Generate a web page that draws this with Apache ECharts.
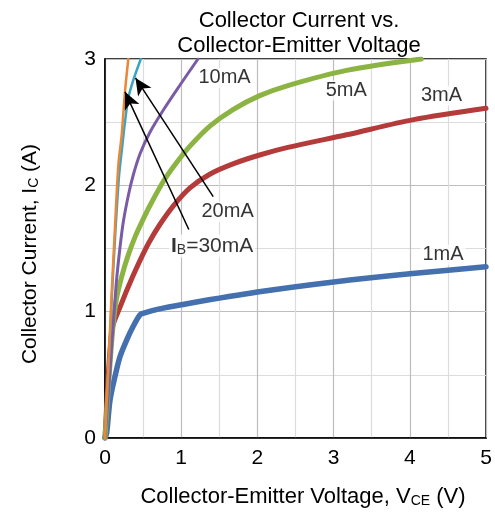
<!DOCTYPE html>
<html>
<head>
<meta charset="utf-8">
<script src="https://cdn.jsdelivr.net/npm/echarts@6/dist/echarts.min.js"></script>
<style>
  html, body { margin: 0; padding: 0; background: #fff; }
  #chart { width: 495px; height: 516px; }
</style>
</head>
<body>
<div id="chart"></div>
<script>
// V_CE (V), I_C (A) pairs
const ib1mA = [[0,0],[0.022,0.04],[0.066,0.30],[0.13,0.485],[0.197,0.644],[0.285,0.776],[0.367,0.88],[0.46,0.975],[0.52,0.99],[0.7,1.02],[1,1.055],[2,1.155],[3,1.235],[4,1.30],[5,1.355]];
const ib3mA = [[0,0],[0.03,0.35],[0.06,0.65],[0.1,0.88],[0.2,1.04],[0.3,1.19],[0.44,1.38],[0.57,1.54],[0.72,1.69],[0.9,1.84],[1.115,1.98],[1.38,2.09],[1.68,2.17],[2.03,2.24],[2.4,2.3],[3.17,2.4],[4.05,2.52],[5,2.61]];
const ib5mA = [[0,0],[0.05,0.45],[0.1,0.85],[0.15,1.1],[0.22,1.28],[0.3,1.44],[0.4,1.6],[0.5,1.73],[0.59,1.84],[0.765,2.03],[0.94,2.18],[1.115,2.31],[1.38,2.47],[1.68,2.6],[2.03,2.71],[2.4,2.79],[3.17,2.91],[4.15,3.0]];
const ib10mA = [[0,0],[0.05,0.4],[0.09,0.75],[0.131,1.09],[0.153,1.26],[0.197,1.51],[0.24,1.71],[0.306,1.92],[0.37,2.08],[0.46,2.25],[0.59,2.42],[0.77,2.6],[0.98,2.79],[1.22,3.0]];
const ib20mA = [[0,0],[0.045,0.55],[0.09,1.12],[0.135,1.62],[0.185,2.08],[0.225,2.3],[0.262,2.5],[0.306,2.69],[0.37,2.83],[0.47,3.0]];
const ib30mA = [[0,0],[0.043,0.56],[0.088,1.15],[0.131,1.67],[0.175,2.16],[0.219,2.4],[0.262,2.74],[0.306,3.0]];

// curve labels: [V, I, text]
const curveLabels = [[1.2, 2.85, '10mA'], [2.87, 2.75, '5mA'], [4.12, 2.71, '3mA'], [4.14, 1.45, '1mA'], [1.24, 1.79, '20mA']];
const ibLabel = [0.84, 1.52];
// arrows: [from, to]
const arrows = [[[1.1, 1.65], [0.262, 2.74]], [[1.42, 1.91], [0.4, 2.85]]];

const xTicks = ['0', '1', '2', '3', '4', '5'];
const yTicks = ['0', '1', '2', '3'];

const FONT = 'Liberation Sans, Arial, sans-serif';
const chart = echarts.init(document.getElementById('chart'));

const curve = (data, color, width) => ({
  type: 'line',
  data,
  showSymbol: false,
  smooth: 0.3,
  lineStyle: { color, width, cap: 'round', join: 'round' },
  silent: true,
  z: 3,
});

const axisNameRich = (size) => ({
  n: { fontFamily: FONT, fontSize: size, fill: '#000', color: '#000' },
  s: { fontFamily: FONT, fontSize: 14, fill: '#000', color: '#000', padding: [9, 0, 0, 0] },
});

const option = {
  animation: false,
  title: {
    text: 'Collector Current vs.\nCollector-Emitter Voltage',
    left: 294,
    top: 3,
    textAlign: 'center',
    textStyle: { fontFamily: FONT, fontSize: 22, fontWeight: 'normal', color: '#000', lineHeight: 25 },
  },
  grid: {
    left: 105, right: 9, top: 59, bottom: 78,
    show: true, borderColor: '#000', borderWidth: 1.5, backgroundColor: 'transparent',
  },
  xAxis: {
    type: 'value', min: 0, max: 5, interval: 0.5,
    axisLine: { show: true, lineStyle: { color: '#000', width: 1.5 } },
    axisTick: { show: false },
    axisLabel: {
      fontFamily: FONT, fontSize: 21, color: '#000', margin: 10,
      formatter: (v) => (Number.isInteger(v) ? xTicks[v] : ''),
    },
    splitLine: { show: true, lineStyle: { color: ['#bdbdbd', '#dcdcdc'], width: 1.2 } },
  },
  yAxis: {
    type: 'value', min: 0, max: 3, interval: 0.5,
    axisLine: { show: true, lineStyle: { color: '#000', width: 1.5 } },
    axisTick: { show: false },
    axisLabel: {
      fontFamily: FONT, fontSize: 21, color: '#000', margin: 9,
      formatter: (v) => (Number.isInteger(v) ? yTicks[v] : ''),
    },
    splitLine: { show: true, lineStyle: { color: ['#bdbdbd', '#dcdcdc'], width: 1.2 } },
  },
  graphic: [
    {
      type: 'text', x: 30, y: 254, rotation: Math.PI / 2,
      style: {
        text: '{n|Collector Current, I}{s|C}{n| (A)}',
        align: 'center', verticalAlign: 'middle',
        rich: axisNameRich(21),
      },
    },
    {
      type: 'text', x: 303, y: 497,
      style: {
        text: '{n|Collector-Emitter Voltage, V}{s|CE}{n| (V)}',
        align: 'center', verticalAlign: 'middle',
        rich: axisNameRich(22),
      },
    },
  ],
  series: [
    curve(ib1mA, '#4470b0', 5.5),
    curve(ib3mA, '#b53a3a', 5),
    curve(ib5mA, '#8cb443', 5),
    curve(ib10mA, '#7a5ba6', 3),
    curve(ib20mA, '#3aa5c2', 2.5),
    curve(ib30mA, '#ea8838', 2.5),
    {
      type: 'scatter',
      data: curveLabels,
      symbolSize: 0,
      silent: true,
      z: 5,
      label: {
        show: true, position: 'inside', align: 'left', verticalAlign: 'middle',
        fontFamily: FONT, fontSize: 20, color: '#000',
        backgroundColor: '#fff', padding: [0, 2],
        formatter: (p) => p.value[2],
      },
      markLine: {
        silent: true,
        symbol: ['none', 'arrow'],
        symbolSize: [12, 17],
        label: { show: false },
        lineStyle: { color: '#000', width: 1.5, type: 'solid' },
        data: arrows.map(([a, b]) => [{ coord: a }, { coord: b }]),
      },
    },
    {
      type: 'scatter',
      data: [ibLabel],
      symbolSize: 0,
      silent: true,
      z: 5,
      label: {
        show: true, position: 'inside', align: 'left', verticalAlign: 'middle',
        backgroundColor: '#fff', padding: [0, 2],
        formatter: '{b|I}{s|B}{n|=30mA}',
        rich: {
          b: { fontFamily: FONT, fontSize: 21, fontWeight: 'bold', color: '#000' },
          s: { fontFamily: FONT, fontSize: 14, color: '#000', padding: [9, 0, 0, 0] },
          n: { fontFamily: FONT, fontSize: 21, color: '#000' },
        },
      },
    },
  ],
};

chart.setOption(option);
</script>
</body>
</html>
